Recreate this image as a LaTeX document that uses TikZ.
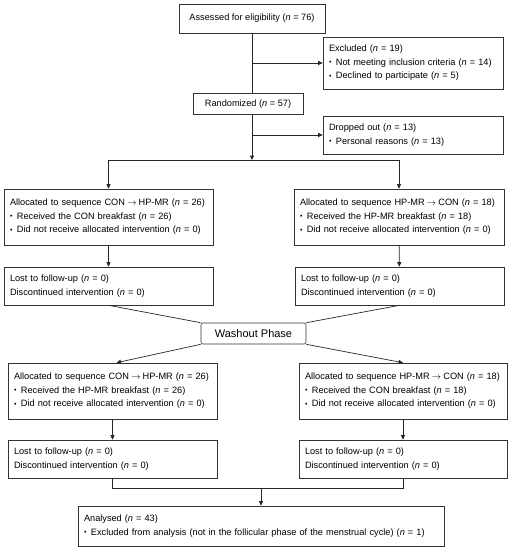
\documentclass[tikz,border=0pt]{standalone}
\usepackage{fontspec}
\setmainfont{Liberation Sans}
\usetikzlibrary{arrows.meta}
\newcommand{\nn}[1]{(\textit{n} = #1)}
\newcommand{\bul}{\raisebox{0.4pt}{\fontsize{7}{7}\selectfont\textbullet}\hspace{4.5pt}}
\newcommand{\tto}{\hspace{2.2pt}$\rightarrow$\hspace{2.2pt}}
\tikzset{
  box/.style={draw=black!80, line width=0.6pt, rectangle, inner xsep=6pt, inner ysep=0pt,
    align=left, font=\fontsize{9.2}{13.5}\selectfont},
  link/.style={draw=black!85, line width=0.7pt},
  arr/.style={link, -{Triangle[length=4.5pt,width=4pt]}}
}

\begin{document}
\begin{tikzpicture}[x=1pt,y=-1pt]
  \useasboundingbox (0,0) rectangle (512,550);
  % Enrolment
  \node[box, align=center, minimum width=146pt, minimum height=29pt] (assess) at (252,18.5) {Assessed for eligibility \nn{76}};
  \node[box, text width=168pt, minimum height=52pt] (excl) at (413,63) {Excluded \nn{19}\\ \bul Not meeting inclusion criteria \nn{14}\\ \bul Declined to participate \nn{5}};
  \node[box, align=center, minimum width=110pt, minimum height=21pt] (rand) at (248,104) {Randomized \nn{57}};
  \node[box, text width=168pt, minimum height=38pt] (drop) at (413,135) {Dropped out \nn{13}\\ \bul Personal reasons \nn{13}};
  \coordinate (split) at (252,160);
  % First period
  \node[box, text width=197pt, minimum height=56pt] (allocA) at (108.5,217) {Allocated to sequence CON\tto HP-MR \nn{26}\\ \bul Received the CON breakfast \nn{26}\\ \bul Did not receive allocated intervention \nn{0}};
  \node[box, text width=198pt, minimum height=56pt] (allocB) at (399,217) {Allocated to sequence HP-MR\tto CON \nn{18}\\ \bul Received the HP-MR breakfast \nn{18}\\ \bul Did not receive allocated intervention \nn{0}};
  \node[box, text width=197pt, minimum height=38pt] (lostA) at (108.5,286) {Lost to follow-up \nn{0}\\ Discontinued intervention \nn{0}};
  \node[box, text width=197pt, minimum height=38pt] (lostB) at (399.5,286) {Lost to follow-up \nn{0}\\ Discontinued intervention \nn{0}};
  % Washout
  \node[box, rounded corners=2pt, align=center, minimum width=105pt, minimum height=21pt, font=\fontsize{11}{12}\selectfont] (wash) at (253.5,333.5) {Washout Phase};
  % Second period
  \node[box, text width=197pt, minimum height=56pt] (allocC) at (112.5,391) {Allocated to sequence CON\tto HP-MR \nn{26}\\ \bul Received the HP-MR breakfast \nn{26}\\ \bul Did not receive allocated intervention \nn{0}};
  \node[box, text width=196pt, minimum height=56pt] (allocD) at (403,391) {Allocated to sequence HP-MR\tto CON \nn{18}\\ \bul Received the CON breakfast \nn{18}\\ \bul Did not receive allocated intervention \nn{0}};
  \node[box, text width=197pt, minimum height=38pt] (lostC) at (112.5,459) {Lost to follow-up \nn{0}\\ Discontinued intervention \nn{0}};
  \node[box, text width=196pt, minimum height=38pt] (lostD) at (403,459) {Lost to follow-up \nn{0}\\ Discontinued intervention \nn{0}};
  \coordinate (merge) at (261,488);
  % Analysis
  \node[box, text width=354pt, minimum height=40pt] (anal) at (261,526) {Analysed \nn{43}\\ \bul Excluded from analysis (not in the follicular phase of the menstrual cycle) \nn{1}};
  % Connectors
  \draw[link] (assess.south) -- (assess.south |- rand.north);
  \draw[arr] (assess.south |- excl.west) -- (excl.west);
  \draw[arr] (assess.south |- rand.south) -- (split);
  \draw[arr] (split |- drop.west) -- (drop.west);
  \draw[link] (allocA.north |- split) -- (allocB.north |- split);
  \draw[arr] (allocA.north |- split) -- (allocA.north);
  \draw[arr] (allocB.north |- split) -- (allocB.north);
  \draw[arr] (allocA) -- (lostA);
  \draw[arr] (allocB) -- (lostB);
  \draw[link] (lostA.south) -- (wash.north west);
  \draw[link] (lostB.south) -- (wash.north east);
  \draw[arr] (wash.south west) -- ([xshift=4pt]allocC.north);
  \draw[arr] (wash.south east) -- (allocD.north);
  \draw[arr] (allocC) -- (lostC);
  \draw[arr] (allocD) -- (lostD);
  \draw[link] (lostC.south) -- (lostC.south |- merge) -- (lostD.south |- merge) -- (lostD.south);
  \draw[arr] (merge) -- (anal.north);
\end{tikzpicture}
\end{document}
